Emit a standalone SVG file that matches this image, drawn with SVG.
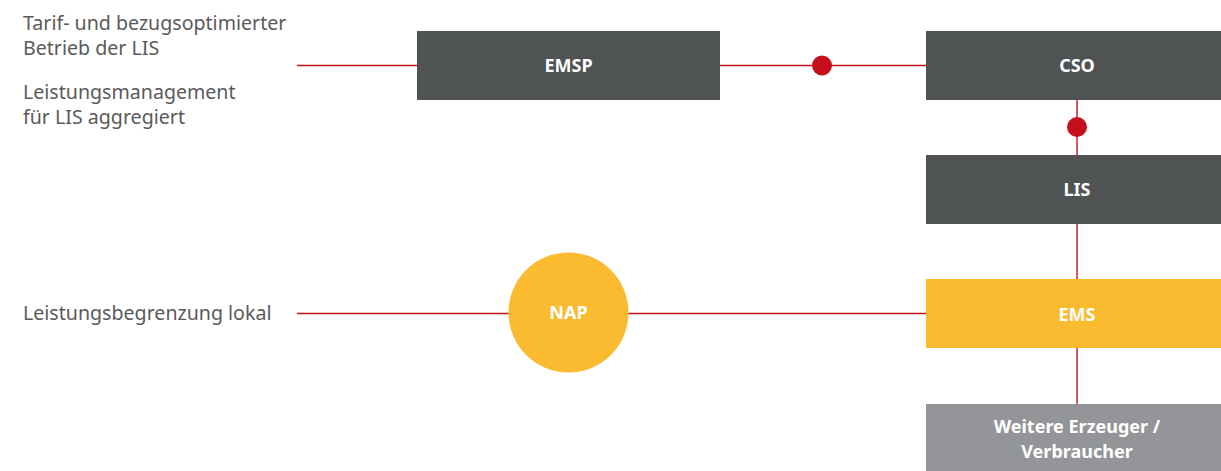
<svg xmlns="http://www.w3.org/2000/svg" width="1221" height="471" viewBox="0 0 1221 471">
<style>
.lbl{font-family:"Noto Sans","Open Sans",sans-serif;font-size:19.6px;fill:#5a5a5a}
.nt{font-family:"Noto Sans","Open Sans",sans-serif;font-size:18px;font-weight:bold;fill:#ffffff;text-anchor:middle}
.ln{stroke:#c0121d;stroke-width:1.4;fill:none}
.dot{fill:#c5101c}
.dark{fill:#505354}
</style>
<rect width="1221" height="471" fill="#ffffff"/>
<g id="labels">
<text class="lbl" x="23" y="30">Tarif- und bezugsoptimierter</text>
<text class="lbl" x="23" y="55">Betrieb der LIS</text>
<text class="lbl" x="23" y="99">Leistungsmanagement</text>
<text class="lbl" x="23" y="124">für LIS aggregiert</text>
<text class="lbl" x="23" y="320">Leistungsbegrenzung lokal</text>
</g>
<g id="connectors">
<line class="ln" x1="297" y1="65.5" x2="417" y2="65.5"/>
<line class="ln" x1="720" y1="65.5" x2="926" y2="65.5"/>
<circle class="dot" cx="822" cy="65.5" r="10"/>
<line class="ln" x1="1077" y1="100" x2="1077" y2="155"/>
<circle class="dot" cx="1077" cy="127" r="10"/>
<line class="ln" x1="1077" y1="224" x2="1077" y2="279"/>
<line class="ln" x1="297" y1="313.5" x2="509" y2="313.5"/>
<line class="ln" x1="628" y1="313.5" x2="926" y2="313.5"/>
<line class="ln" x1="1077" y1="348" x2="1077" y2="404"/>
</g>
<g id="EMSP">
<rect class="dark" x="417" y="31" width="303" height="69"/>
<text class="nt" x="568.5" y="72">EMSP</text>
</g>
<g id="CSO">
<rect class="dark" x="926" y="31" width="295" height="69"/>
<text class="nt" x="1077" y="72">CSO</text>
</g>
<g id="LIS">
<rect class="dark" x="926" y="155" width="295" height="69"/>
<text class="nt" x="1077" y="196">LIS</text>
</g>
<g id="NAP">
<circle cx="568.5" cy="312.5" r="60" fill="#fbbb30"/>
<text class="nt" x="568.5" y="319">NAP</text>
</g>
<g id="EMS">
<rect x="926" y="279" width="295" height="69" fill="#fbbb30"/>
<text class="nt" x="1077" y="321">EMS</text>
</g>
<g id="Weitere">
<rect x="926" y="404" width="295" height="67" fill="#939598"/>
<text class="nt" x="1077" y="433">Weitere Erzeuger /</text>
<text class="nt" x="1077" y="458">Verbraucher</text>
</g>
</svg>
